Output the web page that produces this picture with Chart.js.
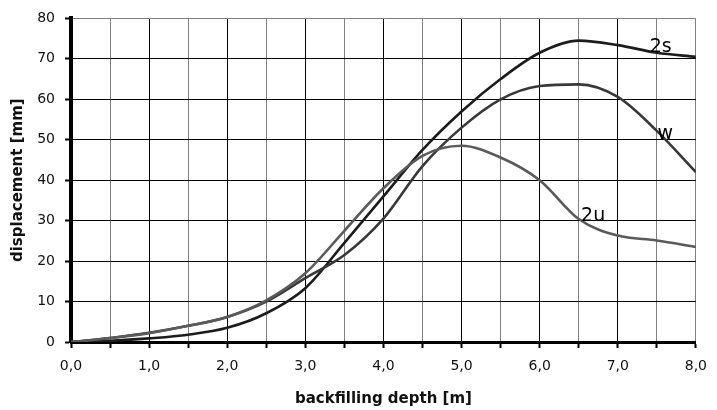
<!DOCTYPE html>
<html lang="en">
<head>
  <meta charset="UTF-8" />
  <title>displacement vs backfilling depth</title>
  <script src="https://cdn.jsdelivr.net/npm/chart.js@4.4.1/dist/chart.umd.min.js"></script>
  <style>
    * { box-sizing: border-box; margin: 0; padding: 0; }
    body { background: #fff; width: 717px; height: 410px; overflow: hidden; }
    .chart-wrapper { position: relative; width: 717px; height: 410px; }
  </style>
</head>
<body>
  <div class="chart-wrapper">
    <canvas id="dispChart"></canvas>
  </div>

  <script>
    // backfilling depth [m]
    const depth = [0, 0.5, 1.0, 1.5, 2.0, 2.5, 3.0, 3.5, 4.0, 4.5, 5.0, 5.5, 6.0, 6.5, 7.0, 7.5, 8.0];
    // displacement [mm]
    const series2s = [0, 0.3, 0.9, 1.8, 3.5, 7.1, 13.3, 24.5, 36.0, 47.5, 57.0, 65.0, 71.5, 74.5, 73.4, 71.5, 70.5];
    const seriesW  = [0, 1.0, 2.3, 4.0, 6.2, 10.0, 15.8, 21.5, 30.5, 43.5, 53.0, 60.0, 63.3, 63.7, 60.6, 52.2, 42.0];
    const series2u = [0, 1.0, 2.2, 4.0, 6.2, 10.3, 17.0, 27.5, 38.0, 46.0, 48.5, 45.6, 40.0, 30.4, 26.3, 25.1, 23.5];

    const seriesNames = ['2s', 'w', '2u'];
    // where each curve name sits (depth, displacement)
    const nameX = [7.41, 7.51, 6.53];
    const nameY = [71.6, 50.1, 29.8];

    const xTicks = { min: 0, max: 8, step: 0.5 };
    const yTicks = { min: 0, max: 80, step: 10 };

    const toPts = (ys) => ys.map((y, i) => ({ x: depth[i], y: y }));

    const curveNames = {
      id: 'curveNames',
      afterDatasetsDraw(chart) {
        const { ctx, scales } = chart;
        ctx.save();
        ctx.fillStyle = '#000';
        ctx.font = '19px "DejaVu Sans", sans-serif';
        ctx.textAlign = 'left';
        ctx.textBaseline = 'alphabetic';
        seriesNames.forEach((n, i) => {
          ctx.fillText(n, scales.x.getPixelForValue(nameX[i]), scales.y.getPixelForValue(nameY[i]));
        });
        ctx.restore();
      }
    };

    const line = (label, ys, color) => ({
      label: label,
      data: toPts(ys),
      borderColor: color,
      borderWidth: 2.6,
      pointRadius: 0,
      fill: false,
      cubicInterpolationMode: 'monotone'
    });

    new Chart(document.getElementById('dispChart'), {
      type: 'line',
      data: {
        datasets: [
          line('2u', series2u, '#5a5a5a'),
          line('w', seriesW, '#383838'),
          line('2s', series2s, '#1c1c1c')
        ]
      },
      options: {
        responsive: true,
        maintainAspectRatio: false,
        animation: false,
        layout: { padding: { left: 0, right: 13, top: 17, bottom: 0 } },
        plugins: { legend: { display: false }, tooltip: { enabled: false } },
        scales: {
          x: {
            type: 'linear',
            min: xTicks.min,
            max: xTicks.max,
            afterFit: (s) => { s.height = 68; },
            border: { color: '#000', width: 3 },
            grid: {
              color: (c) => (c.tick && Number.isInteger(c.tick.value) && c.tick.value < 8) ? '#000' : '#808080',
              tickColor: '#000',
              tickWidth: 2,
              tickLength: 6,
              lineWidth: 1
            },
            ticks: {
              stepSize: xTicks.step,
              autoSkip: false,
              maxRotation: 0,
              padding: 10,
              color: '#111',
              font: { family: '"DejaVu Sans", sans-serif', size: 14 },
              callback: (v) => Number.isInteger(v) ? v.toFixed(1).replace('.', ',') : ''
            },
            title: {
              display: true,
              text: 'backfilling depth [m]',
              color: '#111',
              font: { family: '"DejaVu Sans", sans-serif', size: 15, weight: 'bold' },
              padding: { top: 0, bottom: 2 }
            }
          },
          y: {
            min: yTicks.min,
            max: yTicks.max,
            afterFit: (s) => { s.width = 71; },
            border: { color: '#000', width: 4 },
            grid: {
              color: (c) => (c.tick && c.tick.value === 80) ? '#808080' : '#000',
              tickColor: '#000',
              tickWidth: 2,
              tickLength: 6,
              lineWidth: 1
            },
            ticks: {
              stepSize: yTicks.step,
              padding: 10,
              color: '#111',
              font: { family: '"DejaVu Sans", sans-serif', size: 14 }
            },
            title: {
              display: true,
              text: 'displacement [mm]',
              color: '#111',
              font: { family: '"DejaVu Sans", sans-serif', size: 15, weight: 'bold' },
              padding: { top: 9, bottom: 0 }
            }
          }
        }
      },
      plugins: [curveNames]
    });
  </script>
</body>
</html>
